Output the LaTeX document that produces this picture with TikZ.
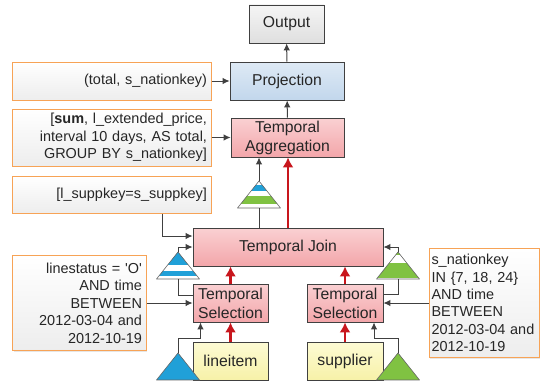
\documentclass[tikz,border=0pt]{standalone}
\usepackage{fontspec}
\setmainfont{Liberation Sans}
\usetikzlibrary{arrows.meta, shadows}
\definecolor{tblue}{RGB}{32,160,216}
\definecolor{tgreen}{RGB}{128,194,66}
\definecolor{tred}{RGB}{200,22,29}
\definecolor{tline}{RGB}{64,64,64}
\definecolor{nborder}{RGB}{247,163,86}
\definecolor{pinkTop}{RGB}{250,208,210}
\definecolor{pinkBot}{RGB}{243,166,170}
\definecolor{projTop}{RGB}{222,234,245}
\definecolor{projBot}{RGB}{194,215,236}
\definecolor{yelTop}{RGB}{253,251,212}
\definecolor{yelBot}{RGB}{247,241,168}

\begin{document}
\begin{tikzpicture}[x=1bp, y=1bp, font=\fontsize{14.5}{17.5}\selectfont, text=black!85,
  box/.style={draw=tline, line width=.8bp, minimum height=38bp, inner sep=1bp, align=center,
    font=\fontsize{15.8}{19}\selectfont,
    drop shadow={shadow xshift=1.2bp, shadow yshift=-1.2bp, opacity=.3}},
  tempbox/.style={box, top color=pinkTop, bottom color=pinkBot},
  projbox/.style={box, top color=projTop, bottom color=projBot},
  outbox/.style={box, top color=gray!8, bottom color=gray!25},
  relbox/.style={box, top color=yelTop, bottom color=yelBot},
  note/.style={draw=nborder, line width=1bp, top color=white, bottom color=gray!14,
    inner xsep=4bp, inner ysep=2bp,
    drop shadow={shadow xshift=1.2bp, shadow yshift=-1.2bp, opacity=.2}},
  link/.style={draw=tline, line width=1bp},
  arr/.style={link, -{Latex[length=7bp, width=6.5bp]}},
  flow/.style={draw=tred, line width=2.8bp, -{Latex[length=10bp, width=11bp]}},
  pics/tri/.style={code={
    \begin{scope}
      \clip (-21.5,0) -- (0,27) -- (21.5,0) -- cycle;
      \fill[white] (-22,0) rectangle (22,28);
      \foreach \lo/\hi/\col in {#1} \fill[\col] (-22,\lo) rectangle (22,\hi);
    \end{scope}
    \draw[tline!80, line width=.6bp, line join=round] (-21.5,0) -- (0,27) -- (21.5,0) -- cycle;
    \coordinate (-top) at (0,27);
    \coordinate (-bot) at (0,0);
  }}
]
\useasboundingbox (0,0) rectangle (545,383);
% Operator tree, bottom to top
\node[relbox, minimum width=75bp] (lineitem) at (230.5,22) {lineitem};
\node[relbox, minimum width=76bp] (supplier) at (345,22) {supplier};
\node[tempbox, minimum width=75bp] (selL) at (230.5,80) {Temporal\\Selection};
\node[tempbox, minimum width=76bp] (selR) at (345,80) {Temporal\\Selection};
\node[tempbox, minimum width=190bp] (join) at (288,136) {Temporal Join};
\node[tempbox, minimum width=113bp, minimum height=39bp] (agg) at (287.5,245.5) {Temporal\\Aggregation};
\node[projbox, minimum width=114bp] (proj) at (287,302) {Projection};
\node[outbox, minimum width=75bp] (out) at (286.5,359) {Output};
% Parameter notes
\node[note, text width=190bp, align=right, minimum height=38bp] (pnote) at (112,302) {(total, s\_nationkey)};
\node[note, text width=190bp, align=right, minimum height=57bp] (anote) at (112,245.5)
  {[\textbf{sum}, l\_extended\_price,\\ interval 10 days, AS total,\\ GROUP BY s\_nationkey]};
\node[note, text width=190bp, align=right, minimum height=37bp] (jnote) at (112,188.5) {[l\_suppkey=s\_suppkey]};
\node[note, text width=125bp, align=right, minimum height=95bp] (lnote) at (79.5,80)
  {linestatus = \textquotesingle O\textquotesingle\\ AND time\\ BETWEEN\\ 2012-03-04 and\\ 2012-10-19};
\node[note, text width=105bp, inner xsep=2.5bp, align=left, minimum height=109bp] (snote) at (484,80)
  {s\_nationkey\\ IN \{7, 18, 24\}\\ AND time\\ BETWEEN\\ 2012-03-04 and\\ 2012-10-19};
% Index triangles
\pic (tm) at (259,175) {tri={17/23/tblue, 4/12.2/tgreen}};
\pic (tl) at (178,104) {tri={14.3/28/tblue, 2.7/7.6/tblue}};
\pic (tr) at (398,104) {tri={23.8/28/tgreen, 1.1/15.9/tgreen}};
\pic (bl) at (178,3) {tri={0/28/tblue}};
\pic (br) at (398,3) {tri={0/28/tgreen}};
% Red data flow
\draw[flow] (lineitem) -- (selL);
\draw[flow] (supplier) -- (selR);
\draw[flow] (selL.north) -- (selL.north |- join.south);
\draw[flow] (selR.north) -- (selR.north |- join.south);
\draw[flow] (join.north) -- (join.north |- agg.south);
\draw[arr] (agg) -- (proj);
\draw[arr] (proj) -- (out);
% Notes and index links
\draw[arr] (pnote) -- (proj);
\draw[arr] (anote) -- (agg);
\draw[arr] ([xshift=50bp]jnote.south) |- ([yshift=11bp]join.west);
\draw[arr] (tl-top) |- (join.west);
\draw[link] ([yshift=8bp]selL.west) -| (tl-bot);
\draw[arr] (lnote) -- (selL);
\draw[arr] (bl-top) -- ++(0,15) -| ([xshift=-30bp]selL.south);
\draw[arr] (br-top) -- ++(0,15) -| ([xshift=29bp]selR.south);
\draw[link] ([yshift=9bp]selR.east) -| (tr-bot);
\draw[arr] (tr-top) |- (join.east);
\draw[arr] (snote) -- (selR);
\draw[link] (tm-bot |- join.north) -- (tm-bot);
\draw[arr] (tm-top) -- (tm-top |- agg.south);
\end{tikzpicture}
\end{document}
